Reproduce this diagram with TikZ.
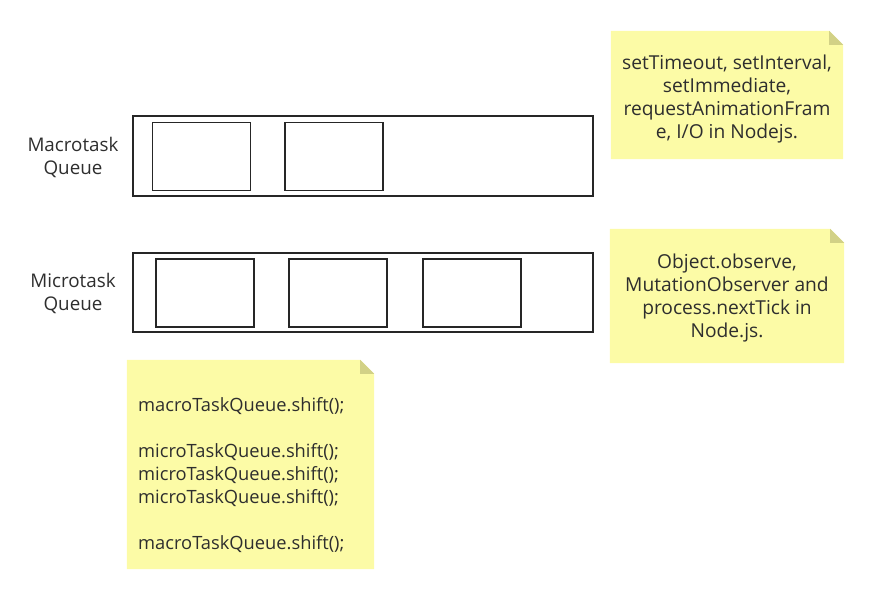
\documentclass[tikz,border=0pt]{standalone}
\usepackage{fontspec}
\setmainfont{Open Sans}
\usetikzlibrary{backgrounds}
\definecolor{notefill}{HTML}{FCFBA6}
\definecolor{notefold}{HTML}{D2D186}
\definecolor{txt}{HTML}{2E2E2E}
\tikzset{
  queuebox/.style={draw=black!85, line width=1.3pt, rectangle, inner sep=0pt},
  taskbox/.style={draw=black!85, line width=1.3pt, rectangle, inner sep=0pt, minimum width=98pt, minimum height=68pt},
  qlabel/.style={align=center, text=txt, font=\fontsize{18.8}{23}\selectfont},
  notetext/.style={text=txt, font=\fontsize{19.2}{23}\selectfont, inner sep=0pt},
  codetext/.style={text=txt, font=\fontsize{18.3}{23}\selectfont, inner sep=0pt},
  notebg/.style={rectangle, inner sep=0pt},
}
\newcommand{\stickynote}[1]{%
  \begin{scope}[on background layer]
    \fill[notefill] (#1.north west) -- ([xshift=-14pt]#1.north east) -- ([yshift=-14pt]#1.north east) -- (#1.south east) -- (#1.south west) -- cycle;
    \fill[notefold] ([xshift=-14pt]#1.north east) -- ([xshift=-14pt,yshift=-14pt]#1.north east) -- ([yshift=-14pt]#1.north east) -- cycle;
  \end{scope}}
\begin{document}
\begin{tikzpicture}[x=1pt,y=-1pt]
\useasboundingbox (0,0) rectangle (871,590);
% queues
\node[queuebox, minimum width=460pt, minimum height=80pt] (macq) at (363,156) {};
\node[taskbox] (m1) at (201.5,156.5) {};
\node[taskbox] (m2) at (334,156.5) {};
\node[qlabel] (macl) at (73,157) {Macrotask\\Queue};

\node[queuebox, minimum width=460pt, minimum height=79pt] (micq) at (363,292.5) {};
\node[taskbox] (u1) at (205,293) {};
\node[taskbox] (u2) at (338,293) {};
\node[taskbox] (u3) at (472,293) {};
\node[qlabel] (micl) at (73,293) {Microtask\\Queue};

% notes
\node[notebg, minimum width=232pt, minimum height=128pt] (n1) at (727,95) {};
\node[notetext, align=center] (t1) at (727,99) {setTimeout, setInterval,\\setImmediate,\\requestAnimationFram\\e, I/O in Nodejs.};
\stickynote{n1}

\node[notebg, minimum width=234pt, minimum height=134pt] (n2) at (727,296) {};
\node[notetext, align=center] (t2) at (727,298) {Object.observe,\\MutationObserver and\\process.nextTick in\\Node.js.};
\stickynote{n2}

\node[notebg, minimum width=247pt, minimum height=209pt] (n3) at (250.5,464.5) {};
\node[codetext, align=left, anchor=north west] (t3) at (138,397) {macroTaskQueue.shift();\\[23pt]microTaskQueue.shift();\\microTaskQueue.shift();\\microTaskQueue.shift();\\[23pt]macroTaskQueue.shift();};
\stickynote{n3}
\end{tikzpicture}
\end{document}
